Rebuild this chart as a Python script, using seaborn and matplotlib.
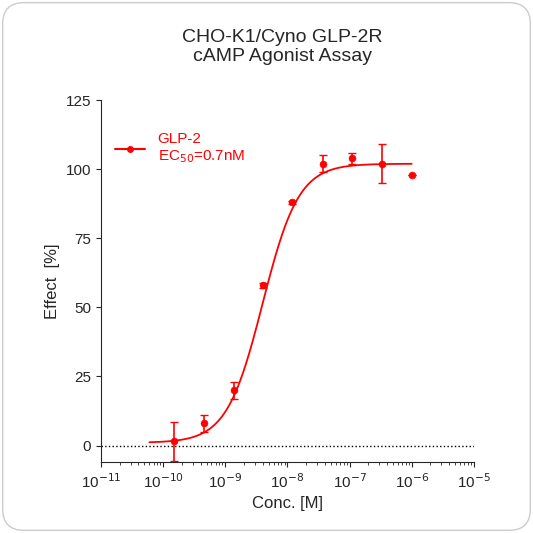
import matplotlib
matplotlib.use("Agg")
import matplotlib.pyplot as plt
from matplotlib.patches import FancyBboxPatch
import seaborn as sns
import numpy as np
import pandas as pd

# Dados
conc = [1.5e-10, 4.6e-10, 1.4e-9, 4.1e-9, 1.2e-8, 3.7e-8, 1.1e-7, 3.3e-7, 1e-6]
effect = [1.5, 8, 20, 58, 88, 102, 104, 102, 98]
erro = [7, 3, 3, 1, 0.5, 3, 2, 7, 0]

# parametros do ajuste (curva)
bottom, top, ec50, hill = 1.0, 102.0, 4.0e-9, 1.5

df = pd.DataFrame({"conc": conc, "effect": effect})

sns.set_style("ticks")
plt.rcParams["font.family"] = ["Liberation Sans", "DejaVu Sans"]

fig = plt.figure(figsize=(5.33, 5.33), dpi=100)
fig.patch.set_facecolor("white")
borda = FancyBboxPatch((0.005, 0.005), 0.99, 0.99, boxstyle="round,pad=0,rounding_size=0.04",
                       transform=fig.transFigure, facecolor="white", edgecolor="#cccccc", lw=1, zorder=-10)
fig.patches.append(borda)
ax = fig.add_axes([0.1895, 0.133, 0.6995, 0.679])
ax.set_facecolor("none")
ax.set_zorder(1)

xs = np.logspace(np.log10(6e-11), -6, 300)
ys = bottom + (top - bottom) / (1 + (ec50 / xs) ** hill)
ax.plot(xs, ys, color="red", lw=1.3)
ax.errorbar(conc, effect, yerr=erro, fmt="none", ecolor="red", capsize=3, lw=1.2)
sns.scatterplot(data=df, x="conc", y="effect", color="red", s=25, edgecolor="red", ax=ax, zorder=3)
ax.axhline(0, color="black", ls=":", lw=1)

ax.set_xscale("log")
ax.set_xlim(1e-11, 1e-5)
ax.set_ylim(-6, 125)
ax.set_yticks([0, 25, 50, 75, 100, 125])
ax.set_xticks([10.0 ** k for k in range(-11, -4)])
ax.set_xticklabels([f"10$^{{{k}}}$" for k in range(-11, -4)])
ax.tick_params(labelsize=11)
for s in ["top", "right"]:
    ax.spines[s].set_visible(False)
ax.set_xlabel("Conc. [M]", fontsize=12)
ax.set_ylabel("Effect  [%]", fontsize=12)

ax.plot([], [], color="red", marker="o", ms=4, label="GLP-2\nEC$_{50}$=0.7nM")
ax.legend(loc="upper left", frameon=False, fontsize=11, labelcolor="red", bbox_to_anchor=(0.0, 0.95))

fig.text(0.53, 0.912, "CHO-K1/Cyno GLP-2R\ncAMP Agonist Assay", ha="center", va="center", fontsize=14)

plt.savefig("out.png", dpi=100)
print("Gráfico feito")
